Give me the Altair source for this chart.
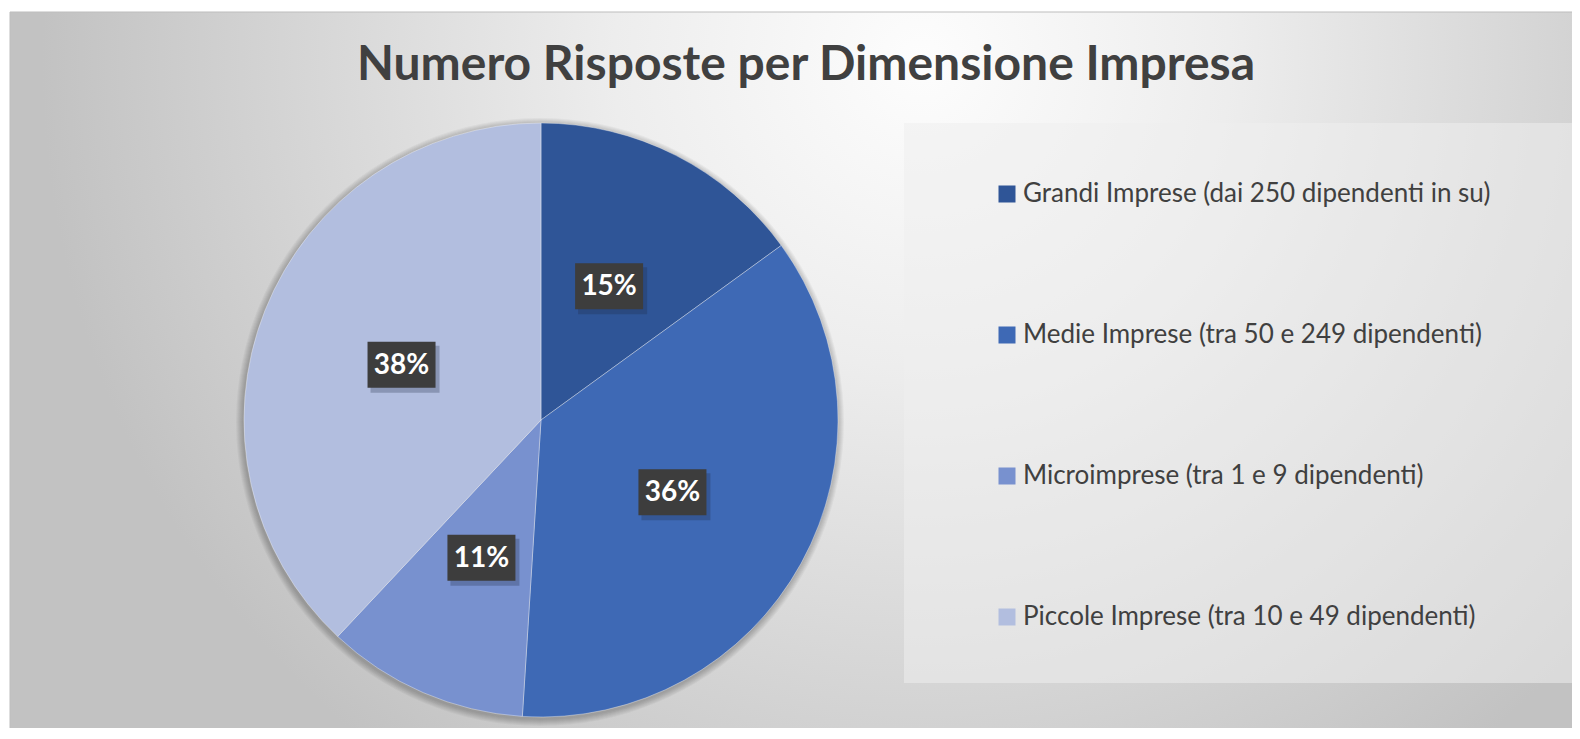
import altair as alt
import pandas as pd

# ---- data ----
categories = [
    "Grandi Imprese (dai 250 dipendenti in su)",
    "Medie Imprese (tra 50 e 249 dipendenti)",
    "Microimprese (tra 1 e 9 dipendenti)",
    "Piccole Imprese (tra 10 e 49 dipendenti)",
]
shares = [15, 36, 11, 38]
labels = ["15%", "36%", "11%", "38%"]
colors = ["#2F5597", "#3E69B5", "#7891CF", "#B2BEDF"]
title_text = "Numero Risposte per Dimensione Impresa"

# ---- layout constants ----
W, H = 1564, 720
CX, CY, R = 533, 412, 297
LR = 150
FONT = "Lato"

df = pd.DataFrame({"cat": categories, "share": shares, "label": labels,
                   "order": list(range(len(categories)))})
one = pd.DataFrame({"t": [title_text]})

bg = alt.Chart(one).mark_rect(
    fill=alt.RadialGradient(
        gradient="radial",
        stops=[alt.GradientStop(color="#fdfdfd", offset=0),
               alt.GradientStop(color="#ededed", offset=0.35),
               alt.GradientStop(color="#c2c2c2", offset=1)],
        x1=0.58, y1=0.30, r1=0, x2=0.58, y2=0.30, r2=0.56),
    stroke="#bdbdbd", strokeWidth=1,
).encode(x=alt.value(2), x2=alt.value(W + 10), y=alt.value(4), y2=alt.value(H + 10))

legend_box = alt.Chart(one).mark_rect(fill="#eeeeee", opacity=0.55).encode(
    x=alt.value(896), x2=alt.value(W + 10), y=alt.value(115), y2=alt.value(675))

shadows = [
    alt.Chart(one).mark_arc(theta=0, theta2=6.2832, radius=R + k, fill="black",
                            opacity=0.035).encode(x=alt.value(CX - 1), y=alt.value(CY + 2))
    for k in range(1, 8)
]

base = alt.Chart(df)

pie = base.mark_arc(radius=R, stroke="white", strokeWidth=0.8, strokeOpacity=0.45).encode(
    theta=alt.Theta("share:Q", stack=True),
    color=alt.Color(
        "cat:N",
        scale=alt.Scale(domain=categories, range=colors),
        legend=alt.Legend(
            orient="none", legendX=986, legendY=173, title=None,
            symbolType="square", symbolSize=289, symbolStrokeWidth=0,
            symbolOpacity=1,
            labelFont=FONT, labelFontSize=26, labelColor="#404040",
            labelOffset=3, rowPadding=115, labelLimit=900, padding=0,
        ),
    ),
    order=alt.Order("order:Q"),
    x=alt.value(CX),
    y=alt.value(CY),
)

lab = base.transform_window(
    cum="sum(share)", sort=[alt.SortField("order")], frame=[None, 0]
).transform_joinaggregate(total="sum(share)").transform_calculate(
    mid="(datum.cum - datum.share / 2) / datum.total * 2 * PI",
).transform_calculate(
    lx=f"{CX} + {LR} * sin(datum.mid)",
    ly=f"{CY} - {LR} * cos(datum.mid)",
).transform_calculate(
    bx1="datum.lx - 34", bx2="datum.lx + 34",
    by1="datum.ly - 23", by2="datum.ly + 23",
    sx1="datum.lx - 31", sx2="datum.lx + 38",
    sy1="datum.ly - 19", sy2="datum.ly + 28",
)

box_shadow = lab.mark_rect(fill="#1f2a44", opacity=0.28).encode(
    x=alt.X("sx1:Q", scale=None, axis=None), x2="sx2:Q",
    y=alt.Y("sy1:Q", scale=None, axis=None), y2="sy2:Q",
)
boxes = lab.mark_rect(fill="#3d3d3d").encode(
    x=alt.X("bx1:Q", scale=None, axis=None), x2="bx2:Q",
    y=alt.Y("by1:Q", scale=None, axis=None), y2="by2:Q",
)
texts = lab.mark_text(font=FONT, fontWeight="bold", fontSize=28, color="white",
                      align="center", baseline="middle", dy=1).encode(
    x=alt.X("lx:Q", scale=None, axis=None),
    y=alt.Y("ly:Q", scale=None, axis=None),
    text="label:N",
)

title = alt.Chart(one).mark_text(font=FONT, fontWeight="bold", fontSize=48,
                                 color="#404040", align="center",
                                 baseline="alphabetic").encode(
    x=alt.value(798), y=alt.value(72), text="t:N")

chart = alt.layer(bg, legend_box, *shadows, pie, box_shadow, boxes, texts, title).properties(
    width=W, height=H,
    autosize=alt.AutoSizeParams(type="none"),
    padding=0,
    background="white",
).configure_view(stroke=None)

chart.save("out.html", embed_options={"renderer": "svg", "actions": False})
